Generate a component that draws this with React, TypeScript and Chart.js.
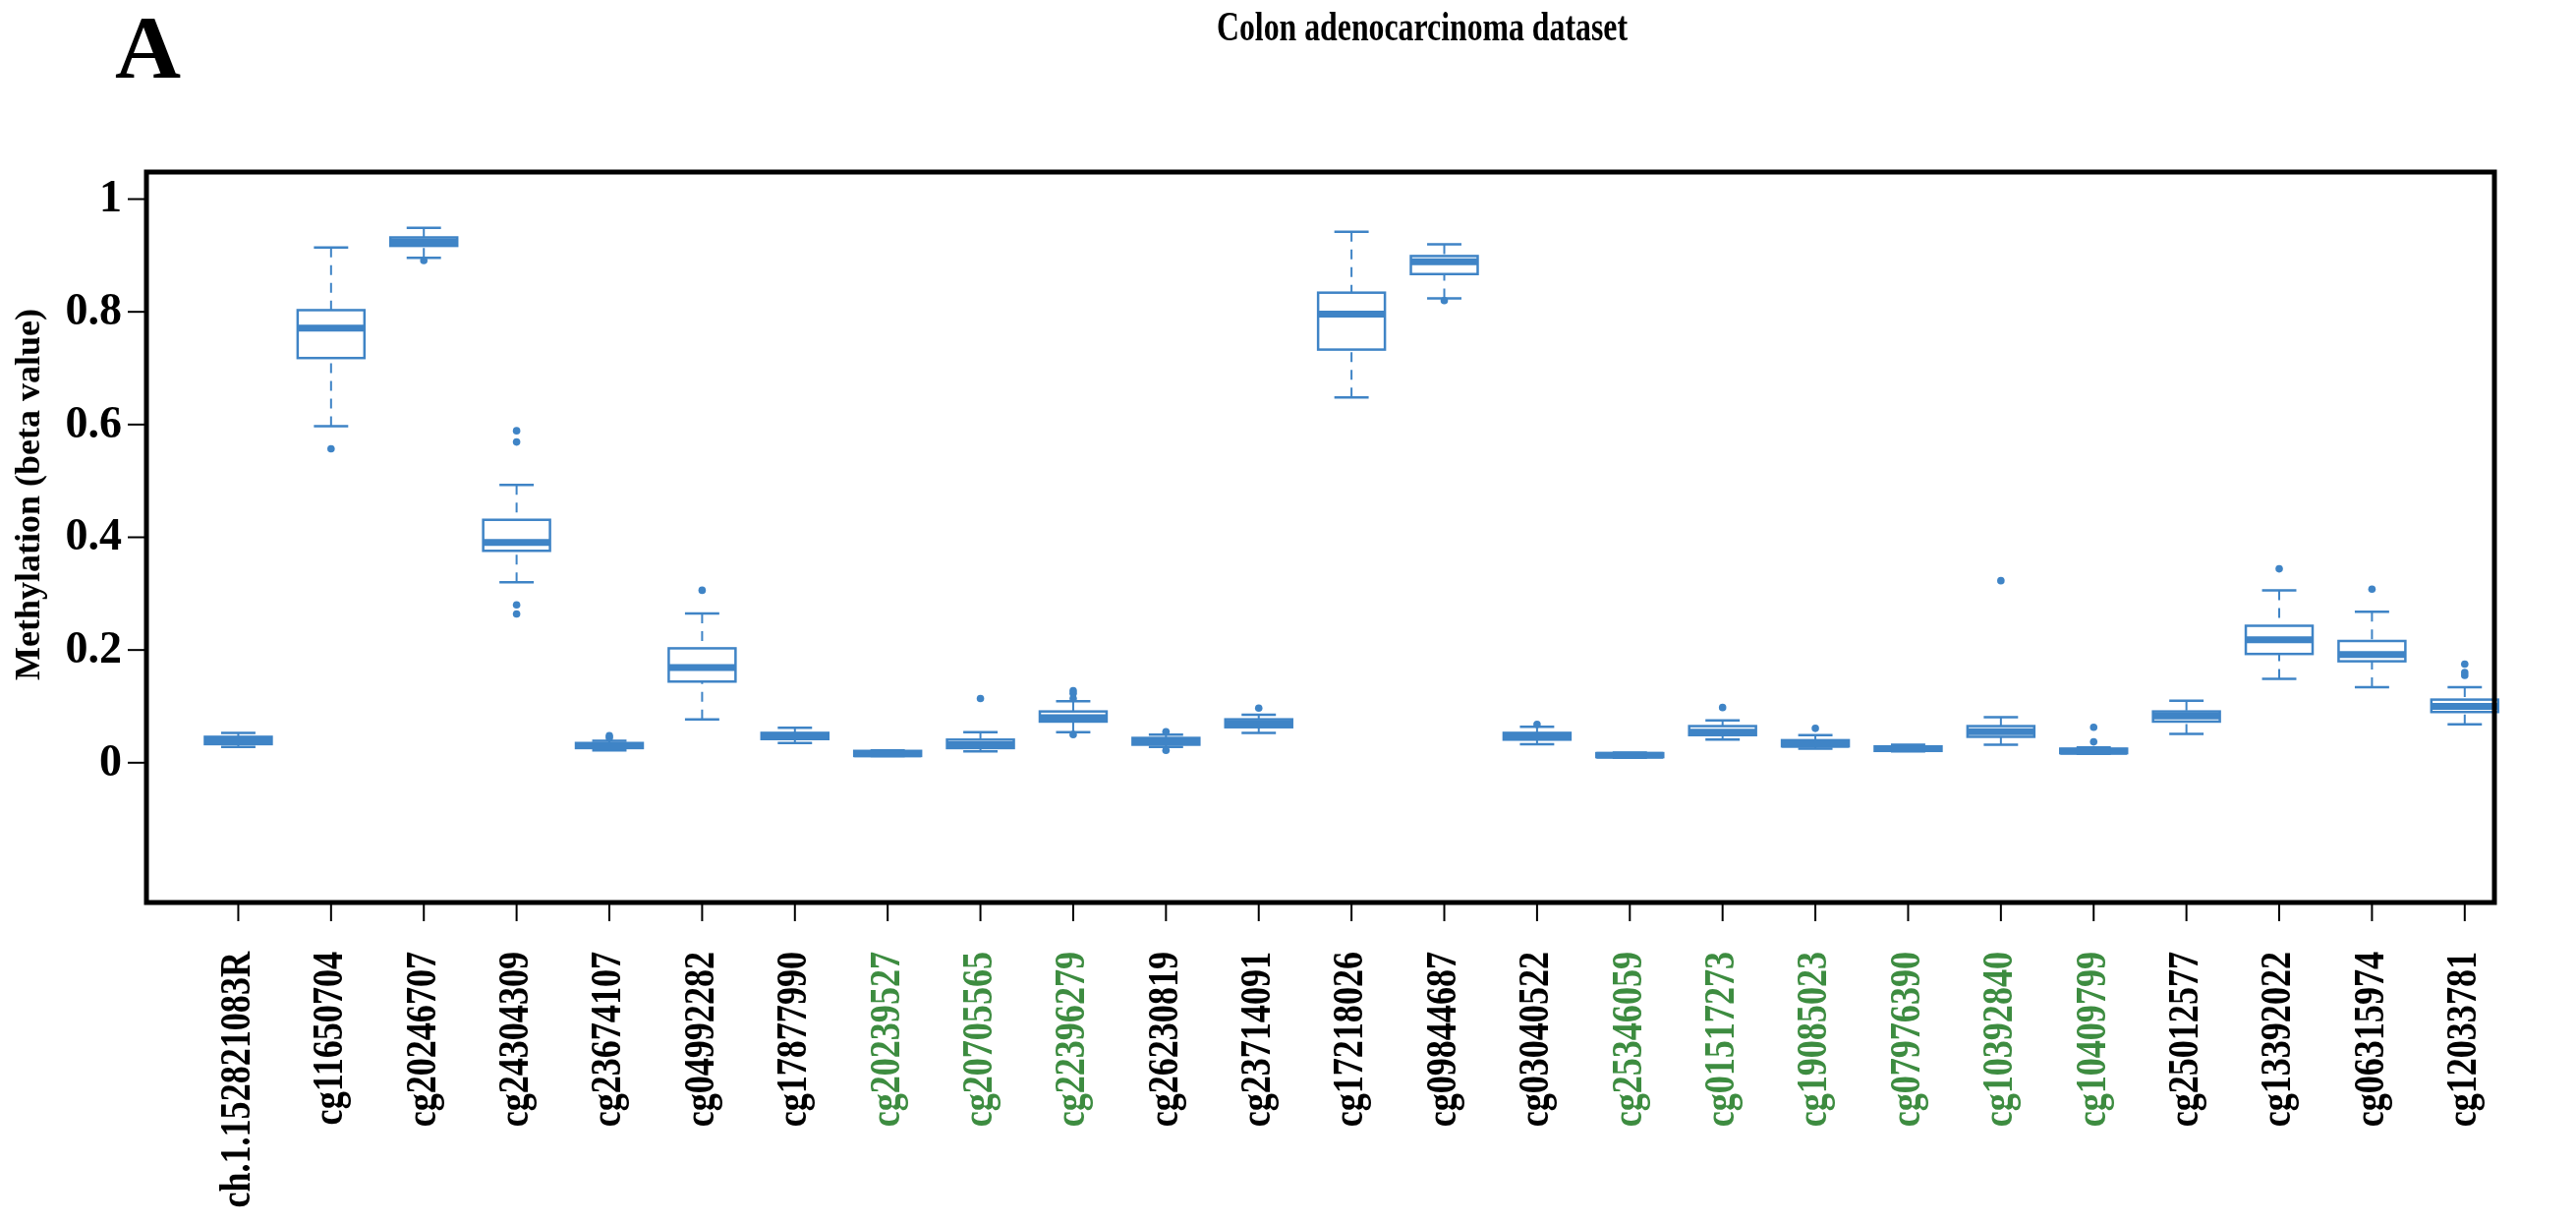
import React, { useEffect, useRef } from "react";
import { Chart, registerables } from "chart.js";

Chart.register(...registerables);

const categories = [
  "ch.1.152821083R", "cg11650704", "cg20246707", "cg24304309", "cg23674107",
  "cg04992282", "cg17877990", "cg20239527", "cg20705565", "cg22396279",
  "cg26230819", "cg23714091", "cg17218026", "cg09844687", "cg03040522",
  "cg25346059", "cg01517273", "cg19085023", "cg07976390", "cg10392840",
  "cg10409799", "cg25012577", "cg13392022", "cg06315974", "cg12033781",
];
const greenLabel = [
  false, false, false, false, false, false, false, true, true, true,
  false, false, false, false, false, true, true, true, true, true,
  true, false, false, false, false,
];
const whiskerLow = [0.028, 0.597, 0.896, 0.32, 0.022, 0.077, 0.035, 0.012, 0.02, 0.054, 0.028, 0.053, 0.648, 0.824, 0.033, 0.009, 0.041, 0.025, 0.02, 0.032, 0.016, 0.051, 0.149, 0.134, 0.068];
const q1 = [0.033, 0.718, 0.917, 0.376, 0.026, 0.144, 0.042, 0.012, 0.026, 0.073, 0.032, 0.063, 0.733, 0.867, 0.041, 0.01, 0.049, 0.029, 0.021, 0.046, 0.017, 0.073, 0.193, 0.18, 0.09];
const median = [0.039, 0.771, 0.924, 0.391, 0.03, 0.169, 0.047, 0.016, 0.032, 0.08, 0.039, 0.069, 0.796, 0.889, 0.047, 0.013, 0.054, 0.033, 0.025, 0.055, 0.02, 0.083, 0.218, 0.192, 0.1];
const q3 = [0.046, 0.803, 0.932, 0.431, 0.035, 0.203, 0.053, 0.021, 0.041, 0.091, 0.044, 0.077, 0.834, 0.899, 0.053, 0.017, 0.065, 0.04, 0.029, 0.065, 0.025, 0.091, 0.243, 0.216, 0.112];
const whiskerHigh = [0.053, 0.914, 0.949, 0.493, 0.039, 0.265, 0.062, 0.022, 0.054, 0.109, 0.05, 0.085, 0.942, 0.92, 0.064, 0.018, 0.075, 0.049, 0.032, 0.081, 0.027, 0.11, 0.306, 0.268, 0.134];
const outliers: number[][] = [
  [], [0.557], [0.891], [0.589, 0.569, 0.28, 0.264], [0.044, 0.048],
  [0.306], [], [], [0.114], [0.128, 0.123, 0.114, 0.05],
  [0.055, 0.022], [0.097], [], [0.82], [0.068],
  [], [0.098], [0.061], [], [0.323],
  [0.063, 0.037], [], [0.344], [0.308], [0.155, 0.16, 0.175],
];
const yTickValues = [0, 0.2, 0.4, 0.6, 0.8, 1];
const yTickLabels = ["0", "0.2", "0.4", "0.6", "0.8", "1"];

const TITLE = "Colon adenocarcinoma dataset";
const PANEL = "A";
const Y_TITLE = "Methylation (beta value)";

const BLUE = "#3f84c6";
const GREEN = "#3d8c40";
const SERIF = "'Liberation Serif', 'DejaVu Serif', serif";

const BOX_W = 0.72;
const STAPLE_W = 0.37;

function fitText(ctx: CanvasRenderingContext2D, text: string, x: number, y: number, targetW: number) {
  const w = ctx.measureText(text).width;
  const sx = targetW / w;
  ctx.save();
  ctx.translate(x, y);
  ctx.scale(sx, 1);
  ctx.fillText(text, 0, 0);
  ctx.restore();
}

const boxPlugin = {
  id: "boxes",
  beforeDatasetsDraw(chart: any) {
    const ctx: CanvasRenderingContext2D = chart.ctx;
    const xs = chart.scales.x;
    const ys = chart.scales.y;
    ctx.save();
    for (let i = 0; i < categories.length; i++) {
      const xc = xs.getPixelForValue(i);
      const half = (xs.getPixelForValue(i + BOX_W / 2) - xs.getPixelForValue(i - BOX_W / 2)) / 2;
      const sh = (xs.getPixelForValue(i + STAPLE_W / 2) - xs.getPixelForValue(i - STAPLE_W / 2)) / 2;
      const pWl = ys.getPixelForValue(whiskerLow[i]);
      const pQ1 = ys.getPixelForValue(q1[i]);
      const pMd = ys.getPixelForValue(median[i]);
      const pQ3 = ys.getPixelForValue(q3[i]);
      const pWh = ys.getPixelForValue(whiskerHigh[i]);
      ctx.strokeStyle = BLUE;
      ctx.lineWidth = 2;
      ctx.setLineDash([10, 8]);
      ctx.beginPath();
      ctx.moveTo(xc, pWh);
      ctx.lineTo(xc, pQ3);
      ctx.moveTo(xc, pWl);
      ctx.lineTo(xc, pQ1);
      ctx.stroke();
      ctx.setLineDash([]);
      ctx.lineWidth = 2.5;
      ctx.beginPath();
      ctx.moveTo(xc - sh, pWh);
      ctx.lineTo(xc + sh, pWh);
      ctx.moveTo(xc - sh, pWl);
      ctx.lineTo(xc + sh, pWl);
      ctx.stroke();
      ctx.fillStyle = "#ffffff";
      ctx.fillRect(xc - half, pQ3, 2 * half, pQ1 - pQ3);
      ctx.lineWidth = 2.5;
      ctx.strokeRect(xc - half, pQ3, 2 * half, pQ1 - pQ3);
      ctx.lineWidth = 7;
      ctx.lineCap = "butt";
      ctx.beginPath();
      ctx.moveTo(xc - half, pMd);
      ctx.lineTo(xc + half, pMd);
      ctx.stroke();
    }
    ctx.restore();
  },
  afterDraw(chart: any) {
    const ctx: CanvasRenderingContext2D = chart.ctx;
    const xs = chart.scales.x;
    const ys = chart.scales.y;
    const a = chart.chartArea;
    ctx.save();
    // frame
    ctx.strokeStyle = "#000000";
    ctx.lineWidth = 5;
    ctx.strokeRect(a.left, a.top, a.right - a.left, a.bottom - a.top);
    // y ticks
    ctx.lineWidth = 2;
    ctx.fillStyle = "#000000";
    ctx.font = `bold 46px ${SERIF}`;
    ctx.textAlign = "right";
    ctx.textBaseline = "middle";
    yTickValues.forEach((v, k) => {
      const y = ys.getPixelForValue(v);
      ctx.beginPath();
      ctx.moveTo(a.left - 19, y);
      ctx.lineTo(a.left, y);
      ctx.stroke();
      ctx.fillText(yTickLabels[k], a.left - 25, y + 1);
    });
    // x ticks and labels
    ctx.font = `bold 44px ${SERIF}`;
    categories.forEach((c, i) => {
      const x = xs.getPixelForValue(i);
      ctx.strokeStyle = "#000000";
      ctx.beginPath();
      ctx.moveTo(x, a.bottom);
      ctx.lineTo(x, a.bottom + 19);
      ctx.stroke();
      ctx.save();
      ctx.translate(x, a.bottom + 50);
      ctx.rotate(-Math.PI / 2);
      ctx.scale(0.82, 1);
      ctx.textAlign = "right";
      ctx.textBaseline = "middle";
      ctx.fillStyle = greenLabel[i] ? GREEN : "#000000";
      ctx.fillText(c, 0, 0);
      ctx.restore();
    });
    // y title
    ctx.save();
    ctx.translate(31, 503);
    ctx.rotate(-Math.PI / 2);
    ctx.font = `bold 36px ${SERIF}`;
    ctx.textAlign = "center";
    ctx.textBaseline = "middle";
    ctx.fillStyle = "#000000";
    ctx.fillText(Y_TITLE, 0, 0);
    ctx.restore();
    // title
    ctx.font = `bold 43px ${SERIF}`;
    ctx.textAlign = "left";
    ctx.textBaseline = "alphabetic";
    ctx.fillStyle = "#000000";
    fitText(ctx, TITLE, 1238, 41, 418);
    // panel letter
    ctx.font = `bold 90px ${SERIF}`;
    fitText(ctx, PANEL, 117, 79, 67);
    ctx.restore();
  },
};

export default function App() {
  const ref = useRef<HTMLCanvasElement | null>(null);
  useEffect(() => {
    if (!ref.current) return;
    const pts: { x: number; y: number }[] = [];
    outliers.forEach((arr, i) => arr.forEach((v) => pts.push({ x: i, y: v })));
    const chart = new Chart(ref.current, {
      type: "scatter",
      data: {
        datasets: [
          {
            data: pts,
            backgroundColor: BLUE,
            borderWidth: 0,
            pointRadius: 3.8,
            pointHoverRadius: 3.8,
          },
        ],
      },
      options: {
        animation: false,
        responsive: false,
        maintainAspectRatio: false,
        devicePixelRatio: 1,
        layout: { padding: { left: 149, right: 83, top: 175, bottom: 327 } },
        scales: {
          x: { type: "linear", min: -0.99, max: 24.32, display: false },
          y: { type: "linear", min: -0.248, max: 1.048, display: false },
        },
        plugins: { legend: { display: false }, tooltip: { enabled: false } },
      },
      plugins: [boxPlugin],
    });
    return () => chart.destroy();
  }, []);
  return (
    <div style={{ position: "fixed", left: 0, top: 0, width: 2621, height: 1245, background: "#ffffff" }}>
      <canvas ref={ref} width={2621} height={1245} style={{ width: 2621, height: 1245, display: "block" }} />
    </div>
  );
}
